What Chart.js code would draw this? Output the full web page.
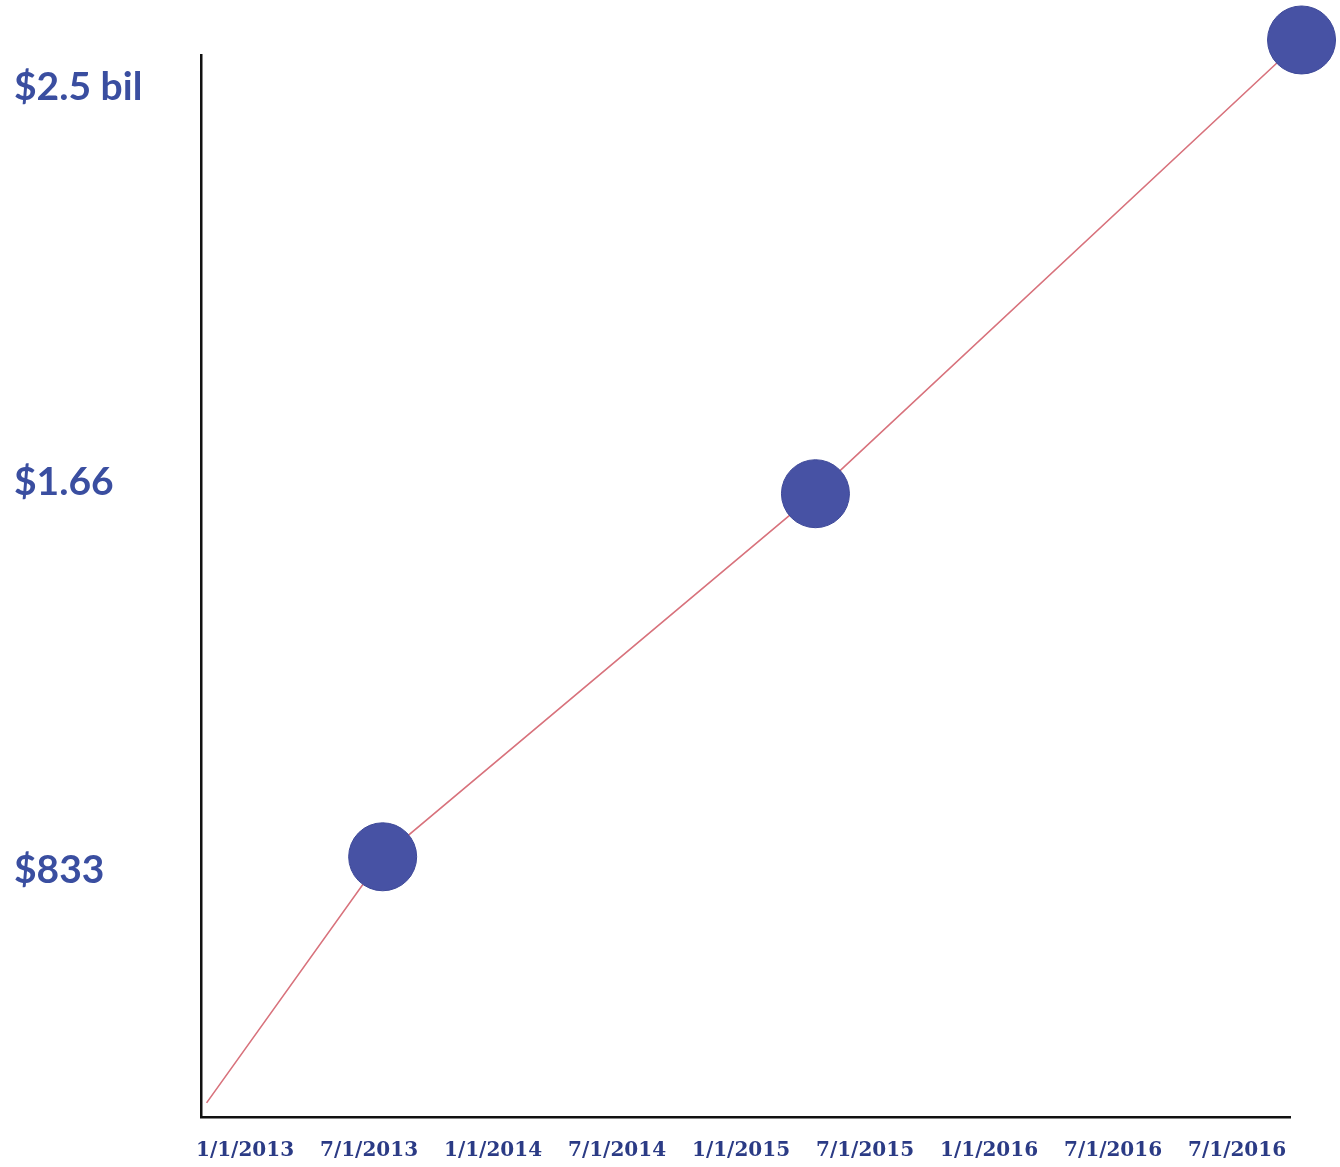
<!DOCTYPE html>
<html>
<head>
<meta charset="utf-8">
<script src="https://cdn.jsdelivr.net/npm/chart.js@4"></script>
<style>
    html, body { margin: 0; padding: 0; background: #ffffff; }
    #wrap { width: 1340px; height: 1167px; position: relative; }
</style>
</head>
<body>
<div id="wrap"><canvas id="lineUmsatz"></canvas></div>
<script>
// x positions are slots on the date axis (0 = first label)
const dateLabels = ["1/1/2013", "7/1/2013", "1/1/2014", "7/1/2014", "1/1/2015", "7/1/2015", "1/1/2016", "7/1/2016", "7/1/2016"];
const slots = [-0.31, 1.11, 4.6, 8.52];
const revenue = [339, 863, 1636, 2602];
const valueTicks = [833, 1660, 2500];
const valueTickLabels = ["$833", "$1.66", "$2.5 bil"];

const points = slots.map((s, i) => ({ x: s, y: revenue[i] }));

new Chart(document.getElementById("lineUmsatz"), {
    type: "line",
    data: {
        datasets: [
            {
                data: points,
                borderColor: "#d8727c",
                borderWidth: 1.6,
                tension: 0,
                clip: false,
                pointRadius: [0, 34, 34, 34],
                pointHoverRadius: [0, 34, 34, 34],
                pointBackgroundColor: "#4752a4",
                pointBorderColor: "#3d4898",
                pointBorderWidth: 1,
            },
        ],
    },
    options: {
        responsive: true,
        maintainAspectRatio: false,
        animation: false,
        layout: {
            padding: { left: 14, top: 55, right: 50, bottom: 0 },
        },
        plugins: {
            legend: { display: false },
            tooltip: { enabled: false },
        },
        scales: {
            x: {
                type: "linear",
                min: -0.355,
                max: 8.427,
                grid: { display: false, drawTicks: false },
                border: { display: true, color: "#111111", width: 2.5 },
                afterBuildTicks: (scale) => {
                    scale.ticks = dateLabels.map((_, i) => ({ value: i }));
                },
                afterFit: (scale) => {
                    scale.height = 50;
                },
                ticks: {
                    autoSkip: false,
                    maxRotation: 0,
                    padding: 22,
                    color: "#2b3b85",
                    font: { family: "DejaVu Serif", weight: "bold", size: 20 },
                    callback: (value) => dateLabels[value],
                },
            },
            y: {
                type: "linear",
                min: 309,
                max: 2570,
                grid: { display: false, drawTicks: false },
                border: { display: true, color: "#111111", width: 2.5 },
                afterBuildTicks: (scale) => {
                    scale.ticks = valueTicks.map((v) => ({ value: v }));
                },
                afterFit: (scale) => {
                    scale.width = 187;
                },
                ticks: {
                    crossAlign: "far",
                    color: "#3a4ea0",
                    font: { family: "Lato", weight: "bold", size: 39 },
                    callback: (value) => valueTickLabels[valueTicks.indexOf(value)],
                },
            },
        },
    },
});
</script>
</body>
</html>
